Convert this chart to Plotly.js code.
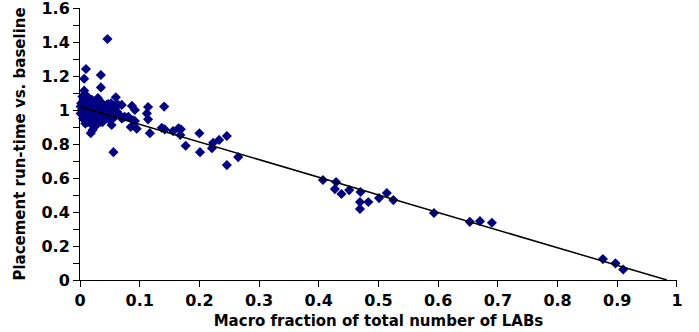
<!DOCTYPE html>
<html>
<head>
<meta charset="utf-8">
<script src="https://cdn.plot.ly/plotly-3.0.1.min.js"></script>
<style>html,body{margin:0;padding:0;background:#fff;}#chart{width:699px;height:332px;}</style>
</head>
<body>
<div id="chart"></div>
<script>
// Scatter data: macro fraction (x) vs placement run-time ratio (y)
const macroFraction = [
  0.046,0.010,0.007,0.035,0.035,0.007,0.060,0.034,0.015,0.047,0.064,0.087,0.092,0.114,0.141,
  0.112,0.114,0.085,0.095,0.089,0.072,0.053,0.053,0.021,0.018,0.056,0.117,0.137,0.142,0.156,
  0.165,0.169,0.168,0.177,0.200,0.201,0.221,0.223,0.233,0.246,0.265,0.246,0.070,0.081,0.092,
  0.002,0.003,0.004,0.005,0.005,0.006,0.007,0.008,0.008,0.009,0.010,0.010,0.011,0.012,0.013,
  0.013,0.014,0.015,0.016,0.016,0.017,0.018,0.019,0.020,0.020,0.021,0.022,0.023,0.024,0.025,
  0.026,0.027,0.028,0.029,0.030,0.031,0.032,0.033,0.034,0.035,0.036,0.037,0.038,0.040,0.041,
  0.043,0.045,0.046,0.048,0.050,0.052,0.054,0.056,0.058,0.060,0.062,0.004,0.012,0.022,0.030,
  0.001,0.001,0.009,0.018,0.027,0.038,0.048,0.066,0.070,0.075,
  0.407,0.429,0.427,0.438,0.451,0.470,0.469,0.469,0.483,0.501,0.514,0.525,0.593,0.653,0.670,
  0.690,0.876,0.897,0.910
];
const runtimeRatio = [
  1.418,1.241,1.184,1.206,1.133,1.114,1.075,1.049,1.067,1.035,1.030,1.024,1.000,1.018,1.020,
  0.980,0.945,0.900,0.890,0.940,0.957,0.947,0.912,0.882,0.864,0.752,0.864,0.895,0.886,0.876,
  0.893,0.887,0.853,0.790,0.863,0.752,0.775,0.807,0.824,0.847,0.723,0.676,1.030,0.960,0.935,
  1.04,1.00,0.97,1.02,0.95,1.06,0.99,1.03,0.94,0.97,1.05,1.01,0.96,0.99,1.03,
  0.93,1.07,0.98,1.01,0.95,1.04,0.97,1.00,1.06,0.94,1.02,0.98,0.96,1.04,1.00,
  0.93,1.03,0.97,1.01,0.95,1.05,0.99,1.02,0.96,0.93,1.00,1.04,0.97,1.02,0.95,
  0.99,1.03,0.96,1.00,0.94,1.04,0.98,1.01,0.96,1.03,0.99,1.08,1.08,1.05,1.07,
  0.98,1.02,0.92,0.92,0.91,0.93,0.95,0.97,0.95,0.96,
  0.588,0.576,0.535,0.506,0.529,0.518,0.459,0.418,0.459,0.482,0.512,0.470,0.394,0.342,0.346,
  0.337,0.123,0.098,0.062
];
// Linear trend line endpoints
const trendX = [0, 0.983];
const trendY = [1.019, 0];

const xTickVals = [0,0.1,0.2,0.3,0.4,0.5,0.6,0.7,0.8,0.9,1];
const xTickText = ['0','0.1','0.2','0.3','0.4','0.5','0.6','0.7','0.8','0.9','1'];
const yTickVals = [0,0.2,0.4,0.6,0.8,1,1.2,1.4,1.6];
const yTickText = ['0','0.2','0.4','0.6','0.8','1','1.2','1.4','1.6'];

const font = 'DejaVu Sans, sans-serif';
const bold = arr => arr.map(t => '<b>' + t + '</b>');

const traces = [
  {
    x: macroFraction, y: runtimeRatio, type: 'scatter', mode: 'markers',
    marker: {symbol: 'diamond', size: 7.8, color: '#000080', line: {width: 0}},
    hoverinfo: 'skip', cliponaxis: false
  },
  {
    x: trendX, y: trendY, type: 'scatter', mode: 'lines',
    line: {color: '#000000', width: 1.5}, hoverinfo: 'skip'
  }
];

const layout = {
  width: 699, height: 332,
  margin: {l: 80, r: 22, t: 8, b: 52},
  paper_bgcolor: '#ffffff', plot_bgcolor: '#ffffff',
  showlegend: false,
  xaxis: {
    range: [0, 1.0001], tickvals: xTickVals, ticktext: bold(xTickText),
    showgrid: false, zeroline: false, showline: true, linecolor: '#000', linewidth: 1,
    ticks: 'outside', ticklen: 6, tickcolor: '#000', tickwidth: 1, ticklabeloverflow: 'allow',
    tickfont: {family: font, size: 16, color: '#000'},
    title: {text: '<b>Macro fraction of total number of LABs</b>', font: {family: font, size: 15, color: '#000'}, standoff: 6}
  },
  yaxis: {
    range: [0, 1.6001], tickvals: yTickVals, ticktext: bold(yTickText),
    showgrid: false, zeroline: false, showline: true, linecolor: '#000', linewidth: 1,
    ticks: 'outside', ticklen: 6, tickcolor: '#000', tickwidth: 1, ticklabeloverflow: 'allow',
    minor: {dtick: 0.1, ticks: 'outside', ticklen: 6, tickcolor: '#000', tickwidth: 1, showgrid: false},
    tickfont: {family: font, size: 16, color: '#000'},
    title: {text: '<b>Placement run-time vs. baseline</b>', font: {family: font, size: 15, color: '#000'}, standoff: 12}
  }
};

Plotly.newPlot('chart', traces, layout, {displayModeBar: false, staticPlot: true});
</script>
</body>
</html>
